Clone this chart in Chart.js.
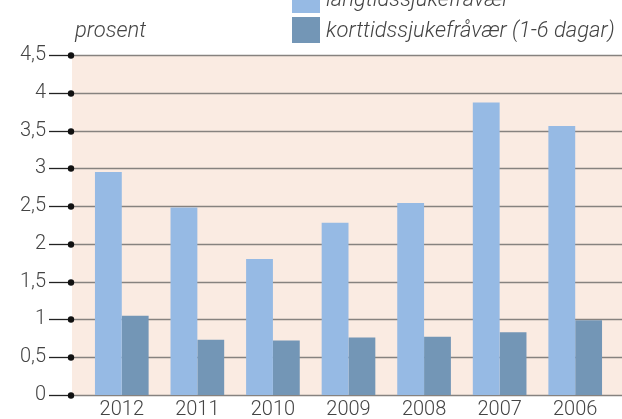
<!DOCTYPE html>
<html>
<head>
<meta charset="utf-8">
<script src="https://cdn.jsdelivr.net/npm/chart.js@4.4.1/dist/chart.umd.min.js"></script>
<style>
  html, body { margin: 0; padding: 0; background: #fff; }
  #wrap { position: relative; width: 622px; height: 419px; overflow: hidden; }
  canvas { position: absolute; left: 0; top: 0; }
  .txt { position: absolute; font-family: Roboto, "DejaVu Sans", sans-serif; font-weight: 300; font-style: italic; color: #444; font-size: 22px; white-space: nowrap; line-height: 1; }
  .sw { position: absolute; width: 28px; height: 26px; }
</style>
</head>
<body>
<div id="wrap">
  <canvas id="c" width="622" height="419"></canvas>
  <div class="txt" style="left:75px; top:19px;">prosent</div>
  <div class="sw" id="sw0" style="left:292px; top:-13px;"></div>
  <div class="txt" id="lg0" style="left:326px; top:-12px;"></div>
  <div class="sw" id="sw1" style="left:292px; top:17px;"></div>
  <div class="txt" id="lg1" style="left:326px; top:19px;"></div>
</div>
<script>
const categories = ["2012", "2011", "2010", "2009", "2008", "2007", "2006"];
const seriesNames = ["langtidssjukefråvær", "korttidssjukefråvær (1-6 dagar)"];
const longTerm = [2.95, 2.48, 1.80, 2.28, 2.54, 3.87, 3.56];
const shortTerm = [1.05, 0.73, 0.72, 0.76, 0.77, 0.83, 0.99];
const yTickValues = [0, 0.5, 1, 1.5, 2, 2.5, 3, 3.5, 4, 4.5];
const yTickLabels = ["0", "0,5", "1", "1,5", "2", "2,5", "3", "3,5", "4", "4,5"];
const colors = ["#96BAE4", "#7396B6"];

document.getElementById('sw0').style.background = colors[0];
document.getElementById('sw1').style.background = colors[1];
document.getElementById('lg0').textContent = seriesNames[0];
document.getElementById('lg1').textContent = seriesNames[1];

const decor = {
  id: 'decor',
  beforeDatasetsDraw(chart) {
    const ctx = chart.ctx;
    const y = chart.scales.y;
    const W = chart.width;
    const top = y.getPixelForValue(yTickValues[yTickValues.length - 1]);
    const bot = y.getPixelForValue(0);
    ctx.save();
    ctx.fillStyle = '#FAEBE2';
    ctx.fillRect(72, top, W - 72, bot - top);
    yTickValues.forEach(v => {
      const py = Math.round(y.getPixelForValue(v)) + 0.5;
      ctx.strokeStyle = '#86827f';
      ctx.lineWidth = 1.5;
      ctx.beginPath();
      ctx.moveTo(71, py);
      ctx.lineTo(W, py);
      ctx.stroke();
      ctx.strokeStyle = '#222';
      ctx.lineWidth = 1.3;
      ctx.beginPath();
      ctx.moveTo(49, py);
      ctx.lineTo(71, py);
      ctx.stroke();
      ctx.fillStyle = '#111';
      ctx.beginPath();
      ctx.arc(71, py, 3.2, 0, Math.PI * 2);
      ctx.fill();
    });
    ctx.restore();
  }
};

const tickFont = { family: 'Roboto, "DejaVu Sans", sans-serif', size: 20, weight: 300 };

new Chart(document.getElementById('c'), {
  type: 'bar',
  data: {
    labels: categories,
    datasets: [
      { label: seriesNames[0], data: longTerm, backgroundColor: colors[0], borderWidth: 0 },
      { label: seriesNames[1], data: shortTerm, backgroundColor: colors[1], borderWidth: 0 }
    ]
  },
  options: {
    responsive: false,
    animation: false,
    events: [],
    layout: { padding: { top: 55, right: 9, left: 0, bottom: 0 } },
    plugins: { legend: { display: false }, tooltip: { enabled: false } },
    datasets: { bar: { categoryPercentage: 0.71, barPercentage: 1.0 } },
    scales: {
      x: {
        grid: { display: false, drawTicks: false },
        border: { display: false },
        ticks: { color: '#444', font: tickFont, padding: 3, maxRotation: 0, autoSkip: false },
        afterFit(s) { s.height = 24; s.paddingBottom = 0; s.paddingTop = 0; }
      },
      y: {
        min: 0, max: 4.5,
        afterBuildTicks(s) { s.ticks = yTickValues.map(v => ({ value: v })); },
        grid: { display: false, drawTicks: false },
        border: { display: false },
        ticks: {
          color: '#444',
          font: tickFont,
          padding: 38,
          callback(v) { const i = yTickValues.indexOf(v); return i >= 0 ? yTickLabels[i] : ''; }
        },
        afterFit(s) { s.width = 84; s.paddingBottom = 0; s.paddingTop = 0; }
      }
    }
  },
  plugins: [decor]
});
</script>
</body>
</html>
